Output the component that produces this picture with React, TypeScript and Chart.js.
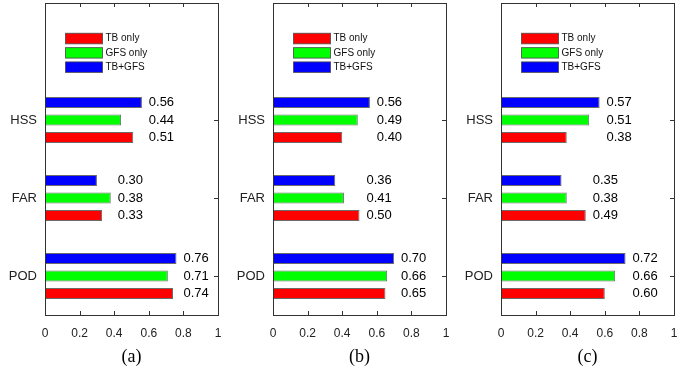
import React, { useEffect, useRef } from "react";
import { Chart, registerables } from "chart.js";

Chart.register(...registerables);

// ---- data ----
const categories = ["HSS", "FAR", "POD"];
const seriesNames = ["TB only", "GFS only", "TB+GFS"];
const seriesColors = ["#ff0000", "#00ff00", "#0000ff"];
const panelCaptions = ["(a)", "(b)", "(c)"];
const xTickStep = 0.2;

// panel (a)
const tbOnlyA = [0.51, 0.33, 0.74];
const gfsOnlyA = [0.44, 0.38, 0.71];
const tbGfsA = [0.56, 0.30, 0.76];
// panel (b)
const tbOnlyB = [0.40, 0.50, 0.65];
const gfsOnlyB = [0.49, 0.41, 0.66];
const tbGfsB = [0.56, 0.36, 0.70];
// panel (c)
const tbOnlyC = [0.38, 0.49, 0.60];
const gfsOnlyC = [0.51, 0.38, 0.66];
const tbGfsC = [0.57, 0.35, 0.72];

const panels = [
  [tbOnlyA, gfsOnlyA, tbGfsA],
  [tbOnlyB, gfsOnlyB, tbGfsB],
  [tbOnlyC, gfsOnlyC, tbGfsC],
];

const FONT = "'Liberation Sans', Arial, sans-serif";
const SERIF = "'Liberation Serif', 'Times New Roman', serif";
const LABEL_OFFSET = 0.04;

const framePlugin = {
  id: "frame",
  beforeDatasetsDraw(chart: any) {
    const { ctx, chartArea } = chart;
    const xs = chart.scales.x;
    const ys = chart.scales.y;
    ctx.save();
    ctx.strokeStyle = "#333";
    ctx.lineWidth = 1;
    ctx.beginPath();
    xs.ticks.forEach((t: any) => {
      const px = Math.round(xs.getPixelForValue(t.value)) + 0.5;
      ctx.moveTo(px, chartArea.bottom);
      ctx.lineTo(px, chartArea.bottom - 4);
      ctx.moveTo(px, chartArea.top);
      ctx.lineTo(px, chartArea.top + 4);
    });
    ys.ticks.forEach((t: any) => {
      const py = Math.round(ys.getPixelForValue(t.value)) + 0.5;
      ctx.moveTo(chartArea.right, py);
      ctx.lineTo(chartArea.right - 4, py);
      ctx.moveTo(chartArea.left, py);
      ctx.lineTo(chartArea.left + 4, py);
    });
    ctx.stroke();
    ctx.restore();
  },
  afterDatasetsDraw(chart: any) {
    const { ctx, chartArea } = chart;
    const xs = chart.scales.x;
    ctx.save();
    // value labels
    const dsets = chart.data.datasets;
    ctx.fillStyle = "#000";
    ctx.font = `13px ${FONT}`;
    ctx.textAlign = "left";
    ctx.textBaseline = "middle";
    categories.forEach((_, j) => {
      let mx = 0;
      dsets.forEach((d: any) => {
        mx = Math.max(mx, d.data[j].x);
      });
      const px = xs.getPixelForValue(mx + LABEL_OFFSET);
      dsets.forEach((d: any, i: number) => {
        const el = chart.getDatasetMeta(i).data[j];
        ctx.fillText(d.data[j].x.toFixed(2), px, el.y);
      });
    });
    // legend (in series order)
    const lx = chartArea.left + 20.5;
    const ly = chartArea.top + 30.3;
    const pw = 37;
    const ph = 10.5;
    const pitch = 14.3;
    ctx.font = `10px ${FONT}`;
    seriesNames.forEach((name, k) => {
      const y = ly + k * pitch;
      ctx.fillStyle = seriesColors[k];
      ctx.fillRect(lx, y, pw, ph);
      ctx.strokeStyle = "rgba(70,70,70,0.8)";
      ctx.lineWidth = 1;
      ctx.strokeRect(lx, y, pw, ph);
      ctx.fillStyle = "#111";
      ctx.fillText(name, lx + pw + 3, y + ph / 2);
    });
    // frame
    ctx.strokeStyle = "#333";
    ctx.lineWidth = 1;
    ctx.strokeRect(
      Math.round(chartArea.left) + 0.5,
      Math.round(chartArea.top) + 0.5,
      Math.round(chartArea.right - chartArea.left),
      Math.round(chartArea.bottom - chartArea.top)
    );
    ctx.restore();
  },
};

function Panel({ series, caption }: { series: number[][]; caption: string }) {
  const ref = useRef<HTMLCanvasElement | null>(null);
  useEffect(() => {
    if (!ref.current) return;
    const n = categories.length;
    // datasets drawn top-to-bottom inside a group: TB+GFS, GFS only, TB only
    const order = [2, 1, 0];
    const datasets = order.map((k) => ({
      label: seriesNames[k],
      data: categories.map((_, j) => ({ x: series[k][j], y: n - j })),
      backgroundColor: seriesColors[k],
      borderColor: "rgba(70,70,70,0.8)",
      borderWidth: 1,
      borderSkipped: false,
      categoryPercentage: 0.67,
      barPercentage: 0.63,
    }));
    const chart = new Chart(ref.current, {
      type: "bar",
      data: { datasets },
      options: {
        indexAxis: "y",
        animation: false,
        responsive: false,
        devicePixelRatio: 1,
        layout: { padding: { top: 3, right: 10, left: 0, bottom: 0 } },
        plugins: { legend: { display: false }, tooltip: { enabled: false } },
        scales: {
          x: {
            type: "linear",
            min: 0,
            max: 1,
            offset: false,
            grid: { display: false, drawTicks: false },
            border: { display: false },
            ticks: {
              stepSize: xTickStep,
              padding: 11,
              color: "#222",
              font: { family: FONT, size: 12 },
              callback: (v: any) => String(Math.round(Number(v) * 10) / 10),
            },
            title: {
              display: true,
              text: caption,
              color: "#000",
              font: { family: SERIF, size: 18 },
              padding: { top: 0, bottom: 5 },
            },
            afterFit: (s: any) => {
              s.height = 58;
              s.paddingLeft = 0;
              s.paddingRight = 0;
            },
          },
          y: {
            type: "linear",
            min: 0.5,
            max: n + 1.5,
            offset: false,
            grid: { display: false, drawTicks: false },
            border: { display: false },
            afterBuildTicks: (s: any) => {
              s.ticks = categories.map((_, j) => ({ value: n - j }));
            },
            ticks: {
              padding: 8,
              color: "#222",
              font: { family: FONT, size: 13 },
              callback: (v: any) => categories[n - Number(v)] ?? "",
            },
            afterFit: (s: any) => {
              s.width = 45;
              s.paddingTop = 0;
              s.paddingBottom = 0;
            },
          },
        },
      },
      plugins: [framePlugin],
    } as any);
    return () => chart.destroy();
  }, [series, caption]);
  return <canvas ref={ref} width={228} height={373} style={{ display: "block", width: 228, height: 373 }} />;
}

export default function App() {
  useEffect(() => {
    document.body.style.margin = "0";
  }, []);
  return (
    <div style={{ display: "flex", width: 684, height: 373, background: "#fff" }}>
      {panels.map((s, i) => (
        <Panel key={i} series={s} caption={panelCaptions[i]} />
      ))}
    </div>
  );
}
